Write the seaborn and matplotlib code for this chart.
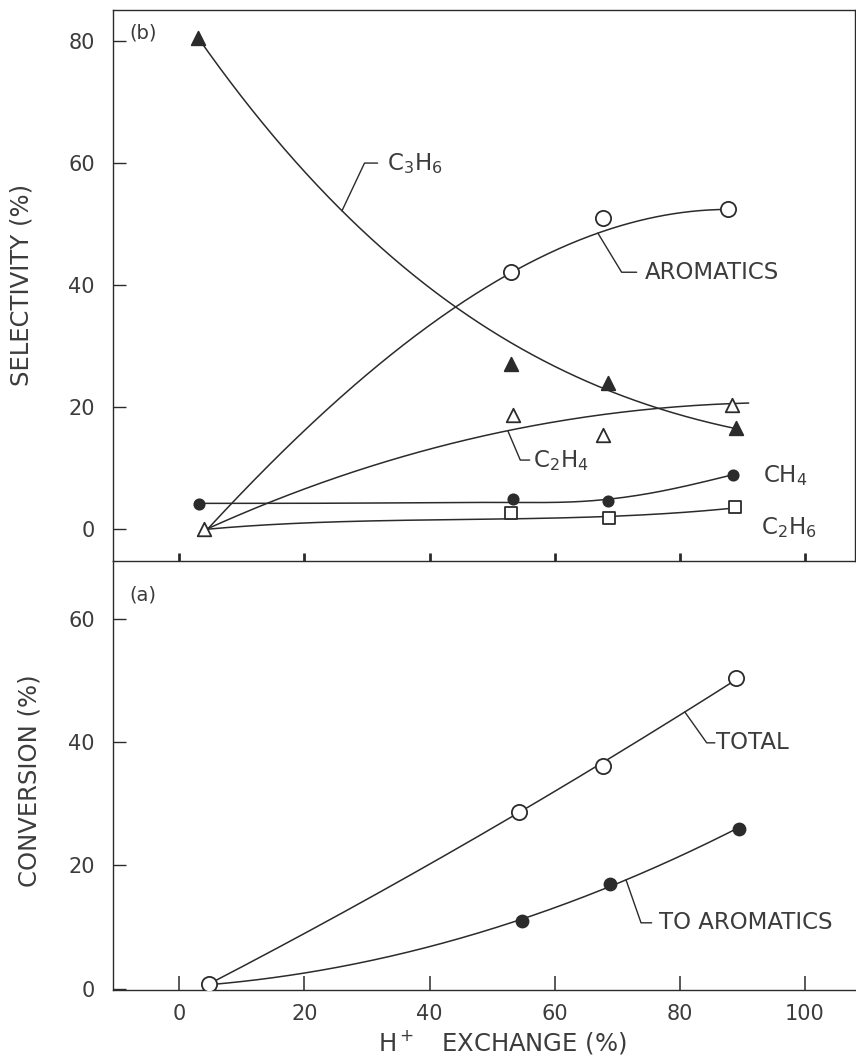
import numpy as np
import matplotlib
matplotlib.use("Agg")
import matplotlib.pyplot as plt
import seaborn as sns

# ---------------- data ----------------
# panel (b): selectivity (%) vs H+ exchange (%)
c3h6_x = [3, 53, 68.5, 89]
c3h6_y = [80.5, 27.0, 24.0, 16.5]
arom_x = [53, 67.8, 87.7]
arom_y = [42.1, 51.0, 52.4]
c2h4_x = [4, 53.3, 67.7, 88.3]
c2h4_y = [0.0, 18.7, 15.4, 20.3]
ch4_x = [3.2, 53.3, 68.5, 88.5]
ch4_y = [4.1, 4.9, 4.6, 8.9]
c2h6_x = [53, 68.6, 88.8]
c2h6_y = [2.6, 1.8, 3.6]

# panel (a): conversion (%) vs H+ exchange (%)
total_x = [4.8, 54.3, 67.7, 89]
total_y = [0.7, 28.7, 36.1, 50.4]
toarom_x = [54.7, 68.8, 89.4]
toarom_y = [11.0, 17.0, 26.0]

# knots
c3h6_cx = [3, 26, 39, 44, 66.7, 75.2, 89]
c3h6_cy = [80.5, 52.5, 40.0, 36.4, 24.1, 19.8, 16.5]
arom_cx = [4.5, 19, 30, 40, 53, 67, 81, 88]
arom_cy = [0.0, 15.0, 25.5, 33.4, 42.0, 48.5, 52.0, 52.4]
c2h4_cx = [4.5, 14.4, 40, 52.5, 75.2, 91]
c2h4_cy = [0.0, 4.4, 13.2, 15.9, 19.8, 20.6]
ch4_cx = [3.5, 30, 53, 64, 76, 88.5]
ch4_cy = [4.2, 4.25, 4.35, 4.5, 6.0, 8.9]
c2h6_cx = [4.5, 20, 40, 53, 68, 88]
c2h6_cy = [0.0, 0.9, 1.5, 1.8, 1.9, 3.4]
total_cx = [4.8, 40, 54.3, 67.7, 89]
total_cy = [0.7, 20.6, 28.7, 36.1, 50.4]
toarom_cx = [4.8, 20.3, 40, 54.7, 68.8, 89.4]
toarom_cy = [0.7, 2.6, 6.8, 11.0, 17.0, 26.0]

x_ticks = [0, 20, 40, 60, 80, 100]
sel_ticks = [0, 20, 40, 60, 80]
conv_ticks = [0, 20, 40, 60]

# ---------------- style ----------------
sns.set_theme(style="white")
plt.rcParams['font.family'] = ['DejaVu Sans']
plt.rcParams['mathtext.default'] = 'regular'

LC = '#2b2b2b'
TC = '#3c3c3c'
FS_LAB = 16.5

fig = plt.figure(figsize=(8.56, 10.62), dpi=100)
L = 113 / 856
W = (855 - 113) / 856
ax_b = fig.add_axes([L, 1 - 561 / 1062, W, (561 - 10) / 1062])
ax_a = fig.add_axes([L, 1 - 990 / 1062, W, (990 - 561) / 1062])
ax_a.set_facecolor('none')
ax_b.set_zorder(2)
ax_b.set_facecolor('none')

XL = (-10.6, 108)
ax_b.set_xlim(*XL)
ax_a.set_xlim(*XL)
ax_b.set_ylim(-5.25, 85.1)
ax_a.set_ylim(-0.2, 69.4)


def poly_fn(kx, ky, deg):
    p = np.polyfit(kx, ky, deg)
    return lambda x: np.polyval(p, x)


def spline_fn(kx, ky):
    kx = np.asarray(kx, float)
    ky = np.asarray(ky, float)
    n = len(kx)
    h = np.diff(kx)
    A = np.zeros((n, n))
    r = np.zeros(n)
    A[0, 0] = A[-1, -1] = 1
    for i in range(1, n - 1):
        A[i, i - 1] = h[i - 1]
        A[i, i] = 2 * (h[i - 1] + h[i])
        A[i, i + 1] = h[i]
        r[i] = 3 * ((ky[i + 1] - ky[i]) / h[i] - (ky[i] - ky[i - 1]) / h[i - 1])
    c = np.linalg.solve(A, r)
    b = (ky[1:] - ky[:-1]) / h - h * (2 * c[:-1] + c[1:]) / 3
    d = (c[1:] - c[:-1]) / (3 * h)

    def f(x):
        x = np.asarray(x, float)
        idx = np.clip(np.searchsorted(kx, x) - 1, 0, n - 2)
        dx = x - kx[idx]
        return ky[idx] + b[idx] * dx + c[idx] * dx ** 2 + d[idx] * dx ** 3
    return f


def draw_curve(ax, kx, f):
    xs = np.linspace(min(kx), max(kx), 300)
    sns.lineplot(x=xs, y=f(xs), ax=ax, color=LC, lw=1.1, sort=False,
                 estimator=None, zorder=2)


def pts(ax, x, y, marker, s, filled):
    sns.scatterplot(x=x, y=y, ax=ax, marker=marker, s=s,
                    color=(LC if filled else 'white'), edgecolor=LC,
                    linewidth=1.3, zorder=3)


def leader(ax, f, xc, ex, ey, hx, text, tx, fs=FS_LAB):
    ax.plot([xc, ex, hx], [float(f(xc)), ey, ey], color=LC, lw=1.0, zorder=2)
    ax.text(tx, ey, text, ha='left', va='center', fontsize=fs, color=TC)


# ---- panel (b) ----
f_c3 = poly_fn(c3h6_cx, c3h6_cy, 3)
f_ar = poly_fn(arom_cx, arom_cy, 3)
f_c2 = poly_fn(c2h4_cx, c2h4_cy, 3)
f_ch = spline_fn(ch4_cx, ch4_cy)
f_e6 = poly_fn(c2h6_cx, c2h6_cy, 3)
for kx, f in [(c3h6_cx, f_c3), (arom_cx, f_ar), (c2h4_cx, f_c2),
              (ch4_cx, f_ch), (c2h6_cx, f_e6)]:
    draw_curve(ax_b, kx, f)

pts(ax_b, c3h6_x, c3h6_y, '^', 95, True)
pts(ax_b, arom_x, arom_y, 'o', 120, False)
pts(ax_b, c2h4_x, c2h4_y, '^', 95, False)
pts(ax_b, ch4_x, ch4_y, 'o', 55, True)
pts(ax_b, c2h6_x, c2h6_y, 's', 65, False)

leader(ax_b, f_c3, 26, 29.6, 60, 31.7, 'C$_3$H$_6$', 33.2)
leader(ax_b, f_ar, 66.9, 70.7, 42.1, 73.1, 'AROMATICS', 74.4)
leader(ax_b, f_c2, 52.5, 54.5, 11.3, 56.0, 'C$_2$H$_4$', 56.6)
ax_b.text(93.3, 8.7, 'CH$_4$', ha='left', va='center', fontsize=FS_LAB, color=TC)
ax_b.text(93.0, 0.3, 'C$_2$H$_6$', ha='left', va='center', fontsize=FS_LAB, color=TC)
ax_b.text(-8.0, 81.3, '(b)', ha='left', va='center', fontsize=14, color=TC)

# ---- panel (a) ----
f_to = poly_fn(total_cx, total_cy, 2)
f_ta = poly_fn(toarom_cx, toarom_cy, 2)
draw_curve(ax_a, total_cx, f_to)
draw_curve(ax_a, toarom_cx, f_ta)
pts(ax_a, total_x, total_y, 'o', 120, False)
pts(ax_a, toarom_x, toarom_y, 'o', 75, True)
leader(ax_a, f_to, 80.8, 84.3, 39.9, 85.6, 'TOTAL', 85.8)
leader(ax_a, f_ta, 71.4, 73.8, 10.7, 75.5, 'TO AROMATICS', 76.6)
ax_a.text(-8.0, 63.9, '(a)', ha='left', va='center', fontsize=14, color=TC)

# ---- axes styling ----
for ax in (ax_a, ax_b):
    ax.set_xticks(x_ticks)
    for s in ax.spines.values():
        s.set_color(LC)
        s.set_linewidth(1.0)
    ax.tick_params(axis='y', direction='in', length=9, width=1.0, color=LC,
                   pad=13, labelsize=15, labelcolor=TC, left=True)
    ax.set_xlabel('')
    ax.set_ylabel('')

ax_b.set_yticks(sel_ticks)
ax_b.tick_params(axis='x', direction='in', length=6, width=2.0, color=LC,
                 labelbottom=False, bottom=True)

ax_a.set_yticks(conv_ticks)
ax_a.spines['top'].set_visible(False)
ax_a.spines['right'].set_visible(False)
ax_a.tick_params(axis='x', direction='in', length=10, width=1.1, color=LC,
                 pad=10, labelsize=15, labelcolor=TC, bottom=True)

fig.text(22 / 856, 1 - 285 / 1062, 'SELECTIVITY (%)', rotation=90,
         ha='center', va='center', fontsize=17.5, color=TC)
fig.text(30 / 856, 1 - 781 / 1062, 'CONVERSION (%)', rotation=90,
         ha='center', va='center', fontsize=17.5, color=TC)
fig.text(502 / 856, 1 - 1042 / 1062, 'H$^+$   EXCHANGE (%)',
         ha='center', va='center', fontsize=17.5, color=TC)

fig.savefig('out.png', dpi=100)
